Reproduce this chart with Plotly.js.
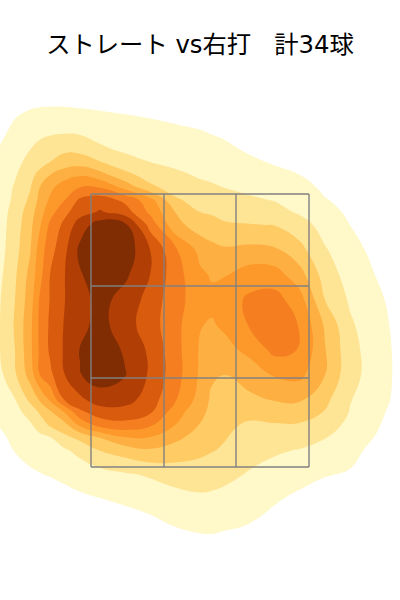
<!DOCTYPE html>
<html><head><meta charset="utf-8">
<script src="https://cdn.plot.ly/plotly-3.0.1.min.js"></script>
<style>html,body{margin:0;padding:0;background:#fff}#c{width:400px;height:600px}</style>
</head><body><div id="c"></div>
<script>
const titleText = "ストレート vs右打\u00a0\u00a0\u00a0計34球";
const gridX = [0,15,30,40,50,65,80,100,125,150,175,200,212,225,250,275,300,325,350,375,400];
const gridY = [100,125,150,162,175,187,200,212,225,250,275,300,325,350,375,400,412,425,437,450,475,500,525,550];
const density = [
[.1,.55,.75,.8,.8,.8,.75,.7,.6,.65,.5,.3,.2,.1,0,0,0,0,0,0,0],
[.6,1.15,1.4,1.5,1.55,1.55,1.5,1.4,1.3,1.12,1.02,.9,.8,.69,.29,.05,0,0,0,0,0],
[1.1,1.5,2,2.35,2.6,2.85,2.75,2.2,1.85,1.7,1.56,1.43,1.32,1.2,.88,.6,.3,.05,0,0,0],
[1.2,1.7,2.3,2.65,3,3.45,3.55,3.05,2.4,2,1.8,1.6,1.5,1.45,1.18,.9,.65,.3,0,0,0],
[1.35,1.9,2.7,3.3,4,4.6,4.9,4.4,3.3,2.6,2.18,1.9,1.82,1.73,1.47,1.27,1,.55,.15,0,0],
[1.42,2.1,2.9,4,4.75,5.5,5.95,5.9,4.65,3.2,2.6,2.2,2.1,1.97,1.75,1.6,1.35,.8,.4,.1,0],
[1.5,2.2,3.2,4.3,5.15,6,7.2,7.55,6.75,5.4,3.15,2.64,2.5,2.35,2.15,1.95,1.7,1.06,.7,.35,.05],
[1.55,2.4,3.5,4.6,5.6,6.75,7.6,8.1,7.5,5.8,4,3,2.9,2.75,2.55,2.35,1.85,1.3,.85,.4,.1],
[1.6,2.5,3.7,4.9,6.2,7.3,8.5,9.5,9.25,6.65,4.35,3.5,3.3,3.1,3.05,2.97,2.45,1.58,1,.55,.15],
[1.65,2.65,3.9,5.5,6.6,7.8,9.25,9.8,9.7,8,6.2,4.7,4.35,4.15,4.27,4.15,3.3,2.1,1.29,.8,.3],
[1.8,2.85,4.3,5.7,7,8,8.9,9.6,9.2,8,6.45,5.2,4.9,4.95,5.5,5.43,4.4,2.55,1.58,1,.45],
[1.95,3,4.5,6.15,7.05,8,8.6,9.35,8.6,7.65,6.35,5.5,5.25,5.5,6.2,6.4,5.4,3,1.87,1.25,.6],
[2,3.1,4.7,6.25,7.15,8.1,8.7,9.35,8.45,7.45,6.35,5.05,4.9,5.2,6.1,6.5,5.95,3.85,2.15,1.4,.7],
[2,3,4.7,6.2,7.15,8.15,9.05,9.5,8.9,7.8,6.4,4.9,4.55,4.65,5.3,6.3,5.95,4.05,2.35,1.5,.75],
[1.75,2.85,4.4,6,6.75,8,8.95,9.5,9.05,7.85,6.45,4.85,4.15,4,4.4,5.1,5.25,4,2.35,1.55,.75],
[1.4,1.95,3.2,4.1,5.1,7.1,7.75,8.5,8.4,7.5,6.1,4.6,3.8,3.6,3.8,4.05,4.1,3.25,2.05,1.45,.7],
[1.2,1.65,2.4,3.15,3.85,5.1,6.8,7.5,7.55,7.15,5.5,4.25,3.75,3.5,3.3,3.4,3.45,2.95,1.95,1.3,.6],
[1.05,1.4,1.85,2.45,3.15,3.7,5.2,6.4,6.7,6.15,5,3.95,3.4,3.2,2.85,2.93,2.9,2.37,1.8,1.15,.45],
[.85,1.2,1.55,1.8,2,2.8,3.3,4.1,5,5,4.3,3.55,3.25,3.05,2.65,2.5,2.45,2.05,1.55,.98,.35],
[.65,1.05,1.3,1.45,1.63,1.9,2.3,3.05,3.5,3.9,3.55,3.2,3.05,2.9,2.45,2.15,1.95,1.7,1.3,.75,.3],
[.2,.55,.85,.95,1.05,1.25,1.4,1.6,1.85,2.1,2.45,2.58,2.5,2.3,1.87,1.55,1.35,1.05,.9,.4,.1],
[0,.1,.25,.35,.45,.6,.8,.95,1.15,1.35,1.55,1.75,1.7,1.6,1.42,1.09,.75,.5,.2,.05,0],
[0,0,0,.05,.1,.15,.2,.3,.5,.75,1.05,1.2,1.22,1.15,.97,.65,.35,.1,0,0,0],
[0,0,0,0,0,0,0,0,.05,.2,.45,.6,.6,.5,.35,.15,.05,0,0,0,0]
];
const bandColors = ["#ffffff","#fff8c9","#fee596","#fecb65","#feaf42","#fd982a","#f57f20","#d95b0e","#b13f05","#802d04"];
const zoneX = [91,164,236,309];
const zoneY = [194,286,378,467];

const colorscale = [];
bandColors.forEach((c,i)=>{
  colorscale.push([i/bandColors.length,c]);
  colorscale.push([(i+1)/bandColors.length,c]);
});
const lx=[],ly=[];
zoneX.forEach(v=>{lx.push(v,v,null);ly.push(zoneY[0],zoneY[zoneY.length-1],null);});
zoneY.forEach(v=>{lx.push(zoneX[0],zoneX[zoneX.length-1],null);ly.push(v,v,null);});

Plotly.newPlot('c',[
 {type:'contour',x:gridX,y:gridY,z:density,zmin:0,zmax:10,colorscale:colorscale,showscale:false,
  autocontour:false,contours:{start:1,end:9,size:1,coloring:'fill',showlines:false},
  line:{width:0,smoothing:1.3},hoverinfo:'skip'},
 {type:'scatter',mode:'lines',x:lx,y:ly,line:{color:'#808080',width:1.4},hoverinfo:'skip',showlegend:false}
],{
 width:400,height:600,margin:{l:0,r:0,t:0,b:0},paper_bgcolor:'#fff',plot_bgcolor:'#fff',showlegend:false,
 title:{text:titleText,x:0.5,xanchor:'center',y:1-44/600,yanchor:'middle',font:{family:'"DejaVu Sans","Noto Sans CJK JP",sans-serif',size:24.3,color:'#000'}},
 xaxis:{range:[0,400],visible:false,fixedrange:true},
 yaxis:{range:[600,0],visible:false,fixedrange:true}
},{displayModeBar:false,staticPlot:true});
</script></body></html>
